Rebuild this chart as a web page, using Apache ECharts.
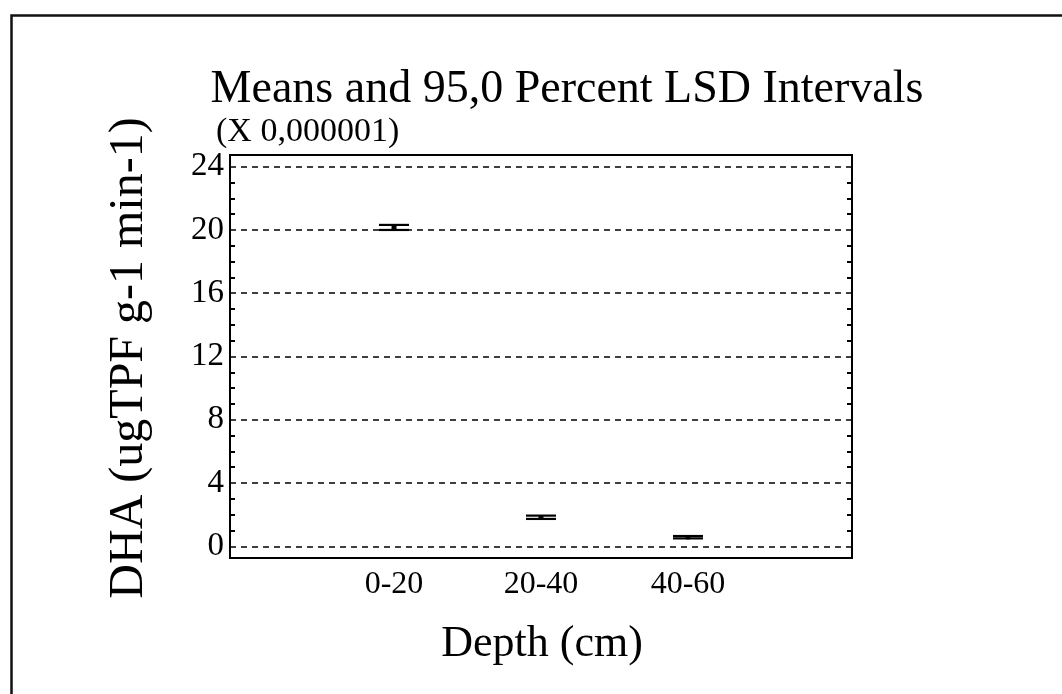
<!DOCTYPE html>
<html>
<head>
<meta charset="utf-8">
<script src="https://cdn.jsdelivr.net/npm/echarts@6/dist/echarts.min.js"></script>
<style>
html,body{margin:0;padding:0;background:#fff;}
#chart{width:1062px;height:694px;}
</style>
</head>
<body>
<div id="chart"></div>
<script>
// ---- data ----
const categories = ['0-20', '20-40', '40-60'];
const means = [20.16, 1.84, 0.58];
const lowerLSD = [20.00, 1.73, 0.50];
const upperLSD = [20.32, 1.94, 0.65];
const yTickLabels = [0, 4, 8, 12, 16, 20, 24];
const yMinorTicks = [1, 2, 3, 5, 6, 7, 9, 10, 11, 13, 14, 15, 17, 18, 19, 21, 22, 23];
const xPositions = [1, 2, 3];

const titleText = 'Means and 95,0 Percent LSD Intervals';
const scaleText = '(X 0,000001)';
const yName = 'DHA (ugTPF g-1 min-1)';
const xName = 'Depth (cm)';

const FONT = '"Liberation Serif", "Times New Roman", serif';

const seriesData = categories.map((c, i) => [xPositions[i], lowerLSD[i], upperLSD[i], means[i]]);

const chart = echarts.init(document.getElementById('chart'), null, {renderer: 'canvas'});

chart.setOption({
  backgroundColor: '#fff',
  animation: false,
  grid: {
    left: 230, top: 155, width: 622, height: 403,
    show: true, borderColor: '#000', borderWidth: 2, backgroundColor: 'transparent'
  },
  xAxis: {
    type: 'value', min: -0.116, max: 4.116,
    axisLine: {show: false, onZero: false},
    axisTick: {show: false},
    splitLine: {show: false},
    axisLabel: {
      customValues: xPositions,
      formatter: v => categories[xPositions.indexOf(v)] || '',
      fontFamily: FONT, fontSize: 32, color: '#000', margin: 11
    }
  },
  yAxis: [
    {
      type: 'value', position: 'left', min: -0.74, max: 24.74,
      axisLine: {show: false, onZero: false},
      splitLine: {show: false},
      axisTick: {show: true, customValues: yMinorTicks, inside: true, length: 5,
                 lineStyle: {color: '#000', width: 2}},
      axisLabel: {customValues: yTickLabels, fontFamily: FONT, fontSize: 33, color: '#000', margin: 6}
    },
    {
      type: 'value', position: 'right', min: -0.74, max: 24.74,
      axisLine: {show: false, onZero: false},
      splitLine: {show: false},
      axisTick: {show: true, customValues: yMinorTicks, inside: true, length: 5,
                 lineStyle: {color: '#000', width: 2}},
      axisLabel: {show: false}
    }
  ],
  series: [{
    type: 'custom',
    xAxisIndex: 0, yAxisIndex: 0,
    data: seriesData,
    renderItem: function (params, api) {
      const x = api.value(0);
      const pLo = api.coord([x, api.value(1)]);
      const pHi = api.coord([x, api.value(2)]);
      const pM = api.coord([x, api.value(3)]);
      const hw = 15;
      const st = {stroke: '#000', lineWidth: 2.2};
      return {
        type: 'group',
        children: [
          {type: 'line', shape: {x1: pHi[0] - hw, y1: pHi[1], x2: pHi[0] + hw, y2: pHi[1]}, style: st},
          {type: 'line', shape: {x1: pLo[0] - hw, y1: pLo[1], x2: pLo[0] + hw, y2: pLo[1]}, style: st},
          {type: 'line', shape: {x1: pM[0], y1: pLo[1] + 1, x2: pM[0], y2: pHi[1]}, style: {stroke: '#000', lineWidth: 3}},
          {type: 'rect', shape: {x: pM[0] - 2.5, y: pM[1] - 2, width: 5, height: 4}, style: {fill: '#000'}}
        ]
      };
    },
    markLine: {
      silent: true,
      symbol: 'none',
      label: {show: false},
      lineStyle: {color: '#000', type: [6, 5], width: 1.5},
      emphasis: {disabled: true},
      data: yTickLabels.map(v => ({yAxis: v}))
    },
    z: 3
  }],
  graphic: [
    {type: 'rect', left: 9, top: 13, shape: {x: 0, y: 0, width: 1100, height: 760},
     style: {fill: 'none', stroke: '#111', lineWidth: 2.5}, silent: true},
    {type: 'text', x: 567, y: 90, style: {text: titleText, font: '46px ' + FONT, fill: '#000',
     textAlign: 'center', textVerticalAlign: 'middle'}},
    {type: 'text', x: 216, y: 132, style: {text: scaleText, font: '34px ' + FONT, fill: '#000',
     textAlign: 'left', textVerticalAlign: 'middle'}},
    {type: 'text', x: 129, y: 358, rotation: Math.PI / 2, style: {text: yName, font: '48px ' + FONT, fill: '#000',
     textAlign: 'center', textVerticalAlign: 'middle'}},
    {type: 'text', x: 542, y: 644, style: {text: xName, font: '44px ' + FONT, fill: '#000',
     textAlign: 'center', textVerticalAlign: 'middle'}}
  ]
});
</script>
</body>
</html>
